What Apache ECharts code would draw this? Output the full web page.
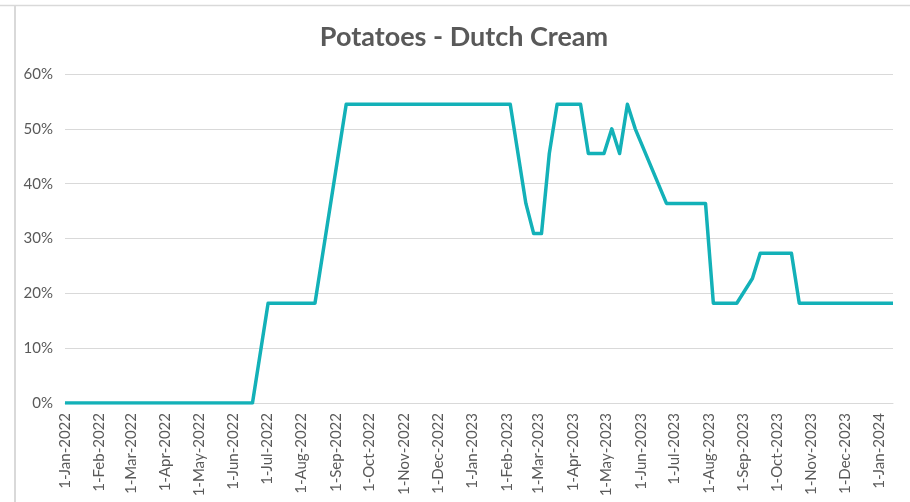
<!DOCTYPE html>
<html>
<head>
<meta charset="utf-8">
<script src="https://cdn.jsdelivr.net/npm/echarts@6/dist/echarts.min.js"></script>
<style>
  html, body { margin: 0; padding: 0; background: #ffffff; }
  #chart { width: 910px; height: 502px; }
</style>
</head>
<body>
<div id="chart"></div>
<script>
// Weekly observation dates where the series changes direction (Saturdays)
var dates = [
  '2022-01-01', '2022-06-18', '2022-07-02', '2022-08-13', '2022-09-10',
  '2023-02-04', '2023-02-18', '2023-02-25', '2023-03-04', '2023-03-11',
  '2023-03-18', '2023-04-08', '2023-04-15', '2023-04-29', '2023-05-06',
  '2023-05-13', '2023-05-20', '2023-05-27', '2023-06-24', '2023-07-29',
  '2023-08-05', '2023-08-26', '2023-09-09', '2023-09-16', '2023-10-14',
  '2023-10-21', '2024-01-13'
];
// Share (fraction) for each date above
var values = [
  0.0, 0.0, 0.182, 0.182, 0.545,
  0.545, 0.364, 0.309, 0.309, 0.455,
  0.545, 0.545, 0.455, 0.455, 0.50,
  0.455, 0.545, 0.50, 0.364, 0.364,
  0.182, 0.182, 0.227, 0.273, 0.273,
  0.182, 0.182
];
var yTicks = [0, 0.1, 0.2, 0.3, 0.4, 0.5, 0.6];
var monthNames = ['Jan','Feb','Mar','Apr','May','Jun','Jul','Aug','Sep','Oct','Nov','Dec'];
var titleText = 'Potatoes - Dutch Cream';
var xStart = '2022-01-01';
var xEnd = '2024-01-13';

var seriesData = dates.map(function (d, i) { return [d, values[i]]; });

var chart = echarts.init(document.getElementById('chart'), null, { renderer: 'canvas' });
var FONT = 'Lato, "Open Sans", sans-serif';
chart.setOption({
  animation: false,
  backgroundColor: '#ffffff',
  title: {
    text: titleText,
    left: 459,
    top: 19,
    textAlign: 'center',
    textStyle: { fontFamily: FONT, fontSize: 27, fontWeight: 'bold', color: '#595959' }
  },
  graphic: [
    { type: 'line', shape: { x1: 0, y1: 5.5, x2: 910, y2: 5.5 }, style: { stroke: '#d9d9d9', lineWidth: 1.5 }, silent: true },
    { type: 'line', shape: { x1: 15, y1: 5.5, x2: 15, y2: 502 }, style: { stroke: '#d9d9d9', lineWidth: 2 }, silent: true }
  ],
  grid: { left: 65, right: 17, top: 74, bottom: 99, containLabel: false },
  xAxis: {
    type: 'time',
    min: xStart,
    max: xEnd,
    minInterval: 28 * 86400000,
    maxInterval: 31 * 86400000,
    splitNumber: 25,
    axisLine: { show: true, lineStyle: { color: '#d9d9d9', width: 1 } },
    axisTick: { show: false },
    splitLine: { show: false },
    axisLabel: {
      rotate: 90,
      margin: 10,
      fontFamily: FONT,
      fontSize: 15,
      color: '#595959',
      showMinLabel: true,
      showMaxLabel: false,
      hideOverlap: false,
      formatter: function (val) {
        var d = new Date(val);
        return d.getDate() + '-' + monthNames[d.getMonth()] + '-' + d.getFullYear();
      }
    }
  },
  yAxis: {
    type: 'value',
    min: yTicks[0],
    max: yTicks[yTicks.length - 1],
    interval: 0.1,
    axisLine: { show: false },
    axisTick: { show: false },
    splitLine: { show: true, lineStyle: { color: '#d9d9d9', width: 1 } },
    axisLabel: {
      margin: 12,
      fontFamily: FONT,
      fontSize: 15,
      color: '#595959',
      formatter: function (v) { return Math.round(v * 100) + '%'; }
    }
  },
  series: [{
    type: 'line',
    data: seriesData,
    showSymbol: false,
    symbol: 'none',
    lineStyle: { color: '#13b1b8', width: 3.5, join: 'round' },
    itemStyle: { color: '#13b1b8' }
  }]
});
</script>
</body>
</html>
